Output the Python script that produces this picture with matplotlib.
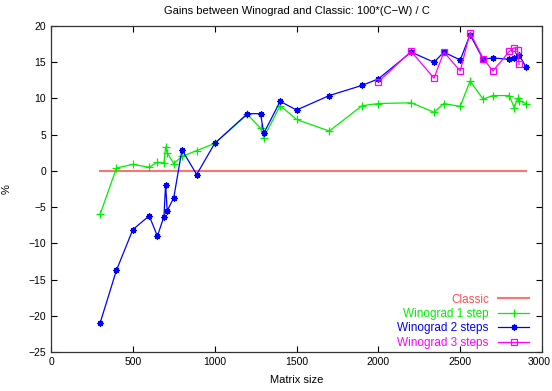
import numpy as np
import matplotlib
matplotlib.use("Agg")
import matplotlib.pyplot as plt
import matplotlib.transforms as mtransforms

plt.rcParams['font.family'] = ['Liberation Sans', 'DejaVu Sans']
plt.rcParams['font.size'] = 8

# matrix sizes and gains (%)
sizes = [300, 400, 500, 600, 650, 690, 700, 710, 750, 800, 890, 1000, 1200, 1280,
         1300, 1400, 1500, 1700, 1900, 2000, 2200, 2340, 2400, 2500, 2560, 2640,
         2700, 2800, 2830, 2850, 2860, 2900]
classic = [0.0] * len(sizes)
wino1 = [-6.0, 0.4, 0.9, 0.5, 1.2, 1.1, 3.3, 2.5, 1.0, 2.0, 2.8, 3.8, 7.8, 5.9,
         4.6, 9.0, 7.1, 5.5, 9.0, 9.3, 9.4, 8.1, 9.3, 8.9, 12.4, 9.9,
         10.4, 10.4, 8.7, 10.0, 9.7, 9.3]
wino2 = [-21.0, -13.7, -8.1, -6.2, -9.0, -6.3, -1.9, -5.5, -3.7, 2.9, -0.5, 3.8, 7.9, 7.9,
         5.2, 9.6, 8.4, 10.4, 11.8, 12.7, 16.4, 15.0, 16.4, 15.3, 18.8, 15.4,
         15.6, 15.4, 15.6, 15.9, 16.0, 14.4]
sizes3 = [2000, 2200, 2340, 2400, 2500, 2560, 2640, 2700, 2800, 2830, 2850, 2860]
wino3 = [12.3, 16.5, 12.8, 16.4, 13.8, 19.1, 15.5, 13.8, 16.5, 17.0, 16.7, 14.7]

fig = plt.figure(figsize=(5.52, 3.91), dpi=100)
ax = fig.add_axes([0.0924, 0.0997, 0.8896, 0.8338])

ax.plot(sizes, classic, color='#ff5050', lw=1.5, alpha=0.8, label='Classic')
ax.plot(sizes, wino1, color='#00ee00', lw=0.9, marker='+', ms=6, mew=0.9,
        label='Winograd 1 step')
ax.plot(sizes, wino2, color='#0000ff', lw=0.9, marker=(8, 2, 0), ms=4.5, mew=0.9,
        label='Winograd 2 steps')
ax.plot(sizes3, wino3, color='#ff00ff', lw=0.9, marker='s', ms=5, mew=0.9,
        mfc='none', label='Winograd 3 steps')

ax.set_xlim(0, 3000)
ax.set_ylim(-25, 20)
ax.set_xticks(np.arange(0, 3001, 500))
ax.set_yticks(np.arange(-25, 21, 5))
ax.tick_params(direction='in', top=True, right=True, length=4, width=0.8,
               labelsize=7.5)
for s in ax.spines.values():
    s.set_linewidth(0.9)
    s.set_color('#333333')

# keep the last x tick label inside the figure
fig.canvas.draw()
last = ax.get_xticklabels()[-1]
last.set_transform(last.get_transform() + mtransforms.ScaledTranslation(-2.5 / 100, 0, fig.dpi_scale_trans))

ax.set_title('Gains between Winograd and Classic: 100*(C\u2212W) / C', fontsize=8, pad=9)
ax.set_xlabel('Matrix size', labelpad=6)
ax.set_ylabel('%', labelpad=12)

leg = ax.legend(loc='lower right', bbox_to_anchor=(0.99, -0.015), frameon=False,
                markerfirst=False, labelcolor='linecolor', numpoints=1,
                handlelength=2.6, labelspacing=0.2, handletextpad=0.8,
                borderaxespad=0.3, fontsize=8.5)

fig.savefig('out.png', dpi=100)
